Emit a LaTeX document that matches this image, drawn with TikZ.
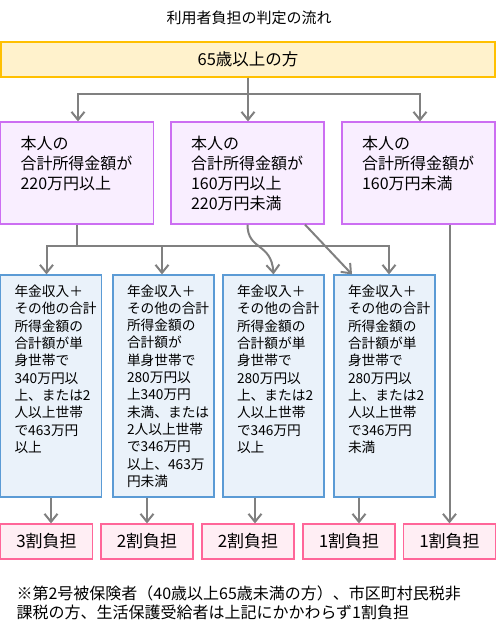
\documentclass[tikz,border=0pt]{standalone}
\usepackage{fontspec}
\setmainfont{Noto Sans CJK JP}
\usepackage{xcolor}
\usepackage{tikz}
\usetikzlibrary{arrows.meta,positioning,calc}
\definecolor{Gold}{HTML}{FFC000}
\definecolor{Cream}{HTML}{FFF2CC}
\definecolor{Violet}{HTML}{CC6EF2}
\definecolor{Lilac}{HTML}{F9EEFF}
\definecolor{Sky}{HTML}{5B9BD5}
\definecolor{PaleSky}{HTML}{EAF2FA}
\definecolor{Rose}{HTML}{FF6699}
\definecolor{PaleRose}{HTML}{FFEEF4}
\definecolor{Grey}{HTML}{808080}
\tikzset{
  startBox/.style={
    draw=Gold, fill=Cream, line width=1.2pt,
    minimum width=494pt, minimum height=35pt,
    font=\fontsize{16.5}{20}\selectfont
  },
  incomeBox/.style={
    draw=Violet, fill=Lilac, line width=1.2pt,
    minimum height=102pt, text width=113pt, inner xsep=20pt,
    align=left, font=\fontsize{16}{20}\selectfont
  },
  condBox/.style={
    draw=Sky, fill=PaleSky, line width=1.2pt,
    minimum height=222pt, text width=73pt, inner xsep=14pt,
    align=left, font=\fontsize{13.7}{17.3}\selectfont
  },
  rateBox/.style={
    draw=Rose, fill=PaleRose, line width=1.2pt,
    minimum width=92pt, minimum height=35pt,
    font=\fontsize{17}{20}\selectfont
  },
  arr/.style={-{Straight Barb[length=8pt,width=13pt]},line width=2pt,draw=Grey},
  link/.style={line width=2pt,draw=Grey},
  note/.style={align=left,anchor=north west,font=\fontsize{16}{19.5}\selectfont}
}

\begin{document}
\begin{tikzpicture}[x=1pt,y=-1pt]
  \useasboundingbox (0,0) rectangle (498,633);
  \node[font=\fontsize{15}{18}\selectfont] (title) at (249,18) {利用者負担の判定の流れ};
  \node[startBox] (start) at (248,59.5) {65歳以上の方};
  % 合計所得金額
  \node[incomeBox] (inHigh) at (77,173) {本人の\\合計所得金額が\\220万円以上\\\mbox{}};
  \node[incomeBox] (inMid) at (247.5,173) {本人の\\合計所得金額が\\160万円以上\\220万円未満};
  \node[incomeBox] (inLow) at (418.5,173) {本人の\\合計所得金額が\\160万円未満\\\mbox{}};
  % 年金収入＋その他の合計所得金額
  \node[condBox] (condTop) at (51,386) {年金収入＋\\その他の合計\\所得金額の\\合計額が単\\身世帯で\\340万円以\\上、または2\\人以上世帯\\で463万円\\以上\\\mbox{}\\\mbox{}};
  \node[condBox] (condUpper) at (163.5,386) {年金収入＋\\その他の合計\\所得金額の\\合計額が\\単身世帯で\\280万円以\\上340万円\\未満、または\\2人以上世帯\\で346万円\\以上、463万\\円未満};
  \node[condBox] (condMid) at (273.5,386) {年金収入＋\\その他の合計\\所得金額の\\合計額が単\\身世帯で\\280万円以\\上、または2\\人以上世帯\\で346万円\\以上\\\mbox{}\\\mbox{}};
  \node[condBox] (condLow) at (384.5,386) {年金収入＋\\その他の合計\\所得金額の\\合計額が単\\身世帯で\\280万円以\\上、または2\\人以上世帯\\で346万円\\未満\\\mbox{}\\\mbox{}};
  % 負担割合
  \node[rateBox] (rateA) at (46.5,541.5) {3割負担};
  \node[rateBox] (rateB) at (147,541.5) {2割負担};
  \node[rateBox] (rateC) at (248,541.5) {2割負担};
  \node[rateBox] (rateD) at (349,541.5) {1割負担};
  \node[rateBox] (rateE) at (449.5,541.5) {1割負担};
  \node[note] (footnote) at (13,582) {※第2号被保険者（40歳以上65歳未満の方）、市区町村民税非\\課税の方、生活保護受給者は上記にかかわらず1割負担};

  \draw[arr] (start.south) -- (start.south |- inMid.north);
  \draw[arr] (start.south) -- ++(0,16) -| ([xshift=1pt]inHigh.north);
  \draw[arr] (start.south) -- ++(0,16) -| ([xshift=1.5pt]inLow.north);

  \coordinate (bus) at (77,246);
  \draw[link] (inHigh.south) -- (bus);
  \draw[arr] (bus) -| ([xshift=-4.5pt]condTop.north);
  \draw[arr] (bus) -| ([xshift=-1.5pt]condUpper.north);
  \draw[arr] (bus) -| ([xshift=4.5pt]condLow.north);
  \draw[arr] (inMid.south) .. controls +(0,26) and +(-2,-32) .. (condMid.north);
  \draw[arr] ([xshift=57.5pt]inMid.south) -- ([xshift=-32.5pt]condLow.north);
  \draw[arr] (inLow.south -| rateE.north) -- (rateE.north);

  \draw[arr] (condTop.south) -- (condTop.south |- rateA.north);
  \draw[arr] (rateB.north |- condUpper.south) -- (rateB.north);
  \draw[arr] ([xshift=7pt]rateC.north |- condMid.south) -- ([xshift=7pt]rateC.north);
  \draw[arr] ([xshift=10pt]rateD.north |- condLow.south) -- ([xshift=10pt]rateD.north);
\end{tikzpicture}
\end{document}
